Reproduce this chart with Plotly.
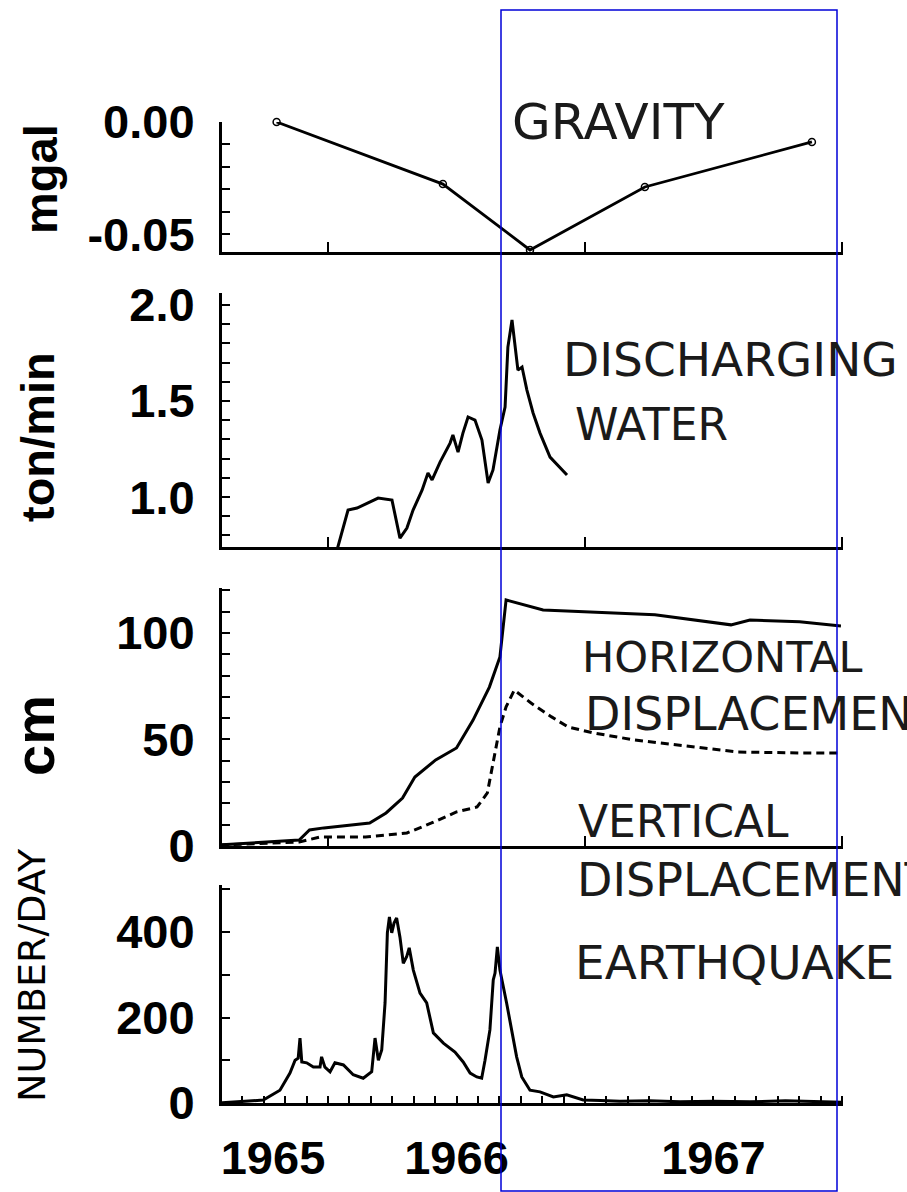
import plotly.graph_objects as go

# ---------------- data (decimal years) ----------------
grav_year = [1965.80, 1966.447, 1966.786, 1967.233, 1967.883]
grav_mgal = [0.0, -0.0277, -0.0571, -0.0290, -0.0089]

water_year = [1966.030, 1966.078, 1966.113, 1966.152, 1966.195, 1966.249, 1966.280, 1966.307,
              1966.331, 1966.366, 1966.389, 1966.405, 1966.436, 1966.475, 1966.486, 1966.506,
              1966.525, 1966.545, 1966.572, 1966.599, 1966.623, 1966.642, 1966.669, 1966.689,
              1966.700, 1966.716, 1966.728, 1966.739, 1966.755, 1966.774, 1966.798, 1966.825,
              1966.864, 1966.930]
water_tpm = [0.70, 0.932, 0.943, 0.969, 0.995, 0.984, 0.786, 0.839,
             0.932, 1.036, 1.125, 1.089, 1.182, 1.281, 1.323, 1.234,
             1.333, 1.417, 1.401, 1.297, 1.073, 1.141, 1.349, 1.469,
             1.781, 1.922, 1.781, 1.661, 1.677, 1.557, 1.438, 1.333,
             1.208, 1.115]

horiz_year = [1965.582, 1965.888, 1965.928, 1965.984, 1966.162, 1966.226, 1966.290, 1966.338,
              1966.419, 1966.500, 1966.564, 1966.628, 1966.669, 1966.693, 1966.837, 1967.111,
              1967.272, 1967.568, 1967.642, 1967.835, 1967.996]
horiz_cm = [0.5, 2.8, 7.5, 8.5, 10.8, 15.5, 22.5, 32.4,
            40.4, 46.0, 59.0, 74.6, 88.7, 115.5, 110.8, 109.4,
            108.5, 103.8, 106.1, 105.2, 103.3]

vert_year = [1965.582, 1965.888, 1965.969, 1966.146, 1966.307, 1966.403, 1966.500, 1966.580,
             1966.620, 1966.644, 1966.669, 1966.693, 1966.725, 1966.790, 1966.870, 1966.934,
             1967.031, 1967.191, 1967.353, 1967.594, 1967.835, 1967.996]
vert_cm = [0.5, 1.9, 4.2, 4.2, 6.1, 10.8, 16.0, 18.3,
           24.9, 40.4, 55.9, 65.3, 73.2, 67.1, 60.6, 55.9,
           53.1, 49.8, 47.4, 44.1, 43.7, 43.7]

eq_year = [1965.580, 1965.748, 1965.813, 1965.852, 1965.872, 1965.884, 1965.891, 1965.898,
           1965.917, 1965.943, 1965.969, 1965.975, 1965.988, 1966.008, 1966.027, 1966.060,
           1966.098, 1966.137, 1966.170, 1966.183, 1966.196, 1966.209, 1966.222, 1966.231,
           1966.239, 1966.248, 1966.257, 1966.267, 1966.280, 1966.293, 1966.306, 1966.316,
           1966.332, 1966.358, 1966.384, 1966.397, 1966.410, 1966.449, 1966.494, 1966.526,
           1966.553, 1966.579, 1966.598, 1966.611, 1966.630, 1966.643, 1966.650, 1966.659,
           1966.669, 1966.695, 1966.721, 1966.734, 1966.754, 1966.786, 1966.825, 1966.877,
           1966.929, 1966.993, 1967.060, 1967.136, 1967.250, 1967.370, 1967.500, 1967.642,
           1967.780, 1967.900, 1968.0]
eq_num = [0, 7, 30, 70, 100, 105, 152, 96,
          94, 84, 84, 108, 84, 73, 94, 89,
          66, 58, 73, 152, 100, 124, 234, 398,
          435, 398, 421, 433, 388, 327, 342, 363,
          311, 257, 234, 201, 164, 140, 119, 96,
          70, 61, 58, 100, 171, 288, 304, 365,
          311, 234, 154, 108, 61, 30, 26, 14,
          19, 7, 6, 4, 5, 3, 4, 3,
          5, 3, 2]

year_tick_vals = [1965.786, 1966.5, 1967.5]
year_tick_text = ["1965", "1966", "1967"]
year_bounds = [1966, 1967, 1968]
month_ticks = [1965 + m / 12 for m in range(8, 37)]

grav_ticks = [0.0, -0.01, -0.02, -0.03, -0.04, -0.05]
grav_text = ["0.00", "", "", "", "", "-0.05"]
water_ticks = [0.8, 0.9, 1.0, 1.1, 1.2, 1.3, 1.4, 1.5, 1.6, 1.7, 1.8, 1.9, 2.0]
water_text = ["", "", "1.0", "", "", "", "", "1.5", "", "", "", "", "2.0"]
cm_ticks = [0, 10, 20, 30, 40, 50, 60, 70, 80, 90, 100, 110, 120]
cm_text = ["0", "", "", "", "", "50", "", "", "", "", "100", "", ""]
eq_ticks = [0, 100, 200, 300, 400, 500]
eq_text = ["0", "", "200", "", "400", ""]

# ---------------- figure ----------------
W, H = 907, 1192
def px(x):
    return x / W
def py(y):
    return 1 - y / H

BOLD = dict(family="Liberation Sans, Arial, sans-serif", size=47, color="black", weight="bold")
LBL = dict(family="DejaVu Sans, sans-serif", size=44, color="#1a1a1a")

fig = go.Figure()
fig.add_trace(go.Scatter(x=grav_year, y=grav_mgal, xaxis="x", yaxis="y", mode="lines+markers",
                         line=dict(color="black", width=2.8),
                         marker=dict(symbol="circle-open", size=7, color="black", line=dict(width=1.5)),
                         cliponaxis=False, showlegend=False))
fig.add_trace(go.Scatter(x=water_year, y=water_tpm, xaxis="x2", yaxis="y2", mode="lines",
                         line=dict(color="black", width=3), showlegend=False))
fig.add_trace(go.Scatter(x=horiz_year, y=horiz_cm, xaxis="x3", yaxis="y3", mode="lines",
                         line=dict(color="black", width=3), showlegend=False))
fig.add_trace(go.Scatter(x=vert_year, y=vert_cm, xaxis="x3", yaxis="y3", mode="lines",
                         line=dict(color="black", width=3, dash="8px,5px"), showlegend=False))
fig.add_trace(go.Scatter(x=eq_year, y=eq_num, xaxis="x4", yaxis="y4", mode="lines",
                         line=dict(color="black", width=3), showlegend=False))

xdom = [px(222), px(843)]
xr = [1965.5875, 1968.004]
base_x = dict(domain=xdom, range=xr, showline=True, linecolor="black", linewidth=3,
              showgrid=False, zeroline=False, automargin=False)
top_x = dict(base_x, tickmode="array", tickvals=year_bounds, ticks="inside", ticklen=10,
             tickwidth=2, tickcolor="black", showticklabels=False)

def yax(dom_top, dom_bot, rng, tv, tt, anchor):
    return dict(domain=[py(dom_bot), py(dom_top)], range=rng, anchor=anchor,
                tickmode="array", tickvals=tv, ticktext=tt, ticks="inside", ticklen=8,
                tickwidth=2, tickcolor="black", showline=True, linecolor="black", linewidth=3,
                showgrid=False, zeroline=False, tickfont=BOLD, ticklabelstandoff=15,
                automargin=False)

fig.update_layout(
    width=W, height=H, margin=dict(l=0, r=0, t=0, b=0, pad=0, autoexpand=False),
    paper_bgcolor="white", plot_bgcolor="white", showlegend=False,
    xaxis=dict(top_x, anchor="y"),
    xaxis2=dict(top_x, anchor="y2"),
    xaxis3=dict(top_x, anchor="y3"),
    xaxis4=dict(base_x, anchor="y4", tickmode="array", tickvals=year_tick_vals,
                ticktext=year_tick_text, ticks="", tickfont=dict(BOLD, size=47),
                ticklabelstandoff=12,
                minor=dict(tickmode="array", tickvals=month_ticks, ticks="inside", ticklen=7,
                           tickwidth=2, tickcolor="black")),
    yaxis=yax(122, 252, [-0.058, 0.0], grav_ticks, grav_text, "x"),
    yaxis2=yax(293, 547, [0.74, 2.0625], water_ticks, water_text, "x2"),
    yaxis3=yax(588, 846, [0, 121.1], cm_ticks, cm_text, "x3"),
    yaxis4=yax(885, 1103, [0, 510], eq_ticks, eq_text, "x4"),
)

# axis titles
titles = [("mgal", 41, 179, BOLD), ("ton/min", 37, 437, BOLD),
          ("cm", 34, 736, dict(BOLD, size=56)),
          ("NUMBER/DAY", 32, 975, dict(family="DejaVu Sans, sans-serif", size=38, color="black"))]
for t, x, y, f in titles:
    fig.add_annotation(text=t, x=px(x), y=py(y), xref="paper", yref="paper", showarrow=False,
                       textangle=-90, font=f, xanchor="center", yanchor="middle")

labels = [("GRAVITY", 510, 122, 50), ("DISCHARGING", 561, 359, 47), ("WATER", 573, 424, 44),
          ("HORIZONTAL", 580, 657, 43), ("DISPLACEMENT", 583, 714, 46),
          ("VERTICAL", 576, 821, 44), ("DISPLACEMENT", 575, 880, 46),
          ("EARTHQUAKE", 573, 962, 47)]
for t, x, y, s in labels:
    fig.add_annotation(text=t, x=px(x), y=py(y), xref="paper", yref="paper", showarrow=False,
                       font=dict(LBL, size=s), xanchor="left", yanchor="middle")

# blue highlight box
fig.add_shape(type="rect", xref="paper", yref="paper", x0=px(501), x1=px(837),
              y0=py(1191), y1=py(10), line=dict(color="#0000d8", width=1.5), layer="above")

fig.write_html("out.html")
